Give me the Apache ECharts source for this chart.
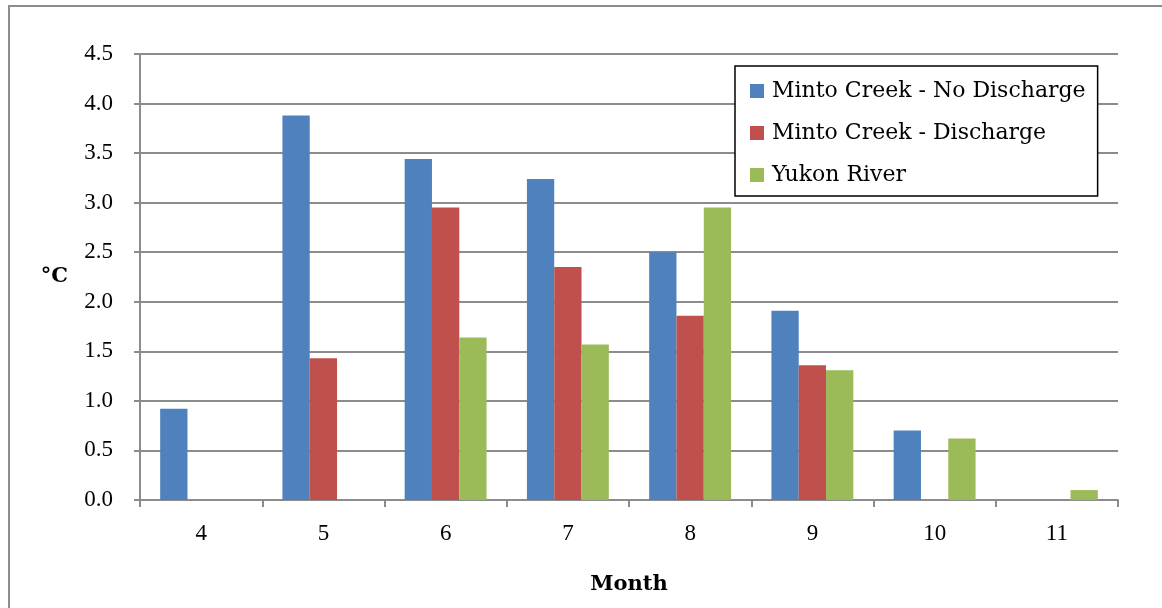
<!DOCTYPE html>
<html>
<head>
<meta charset="utf-8">
<script src="https://cdn.jsdelivr.net/npm/echarts@6/dist/echarts.min.js"></script>
<style>
  html, body { margin: 0; padding: 0; background: #fff; }
  #chart { width: 1162px; height: 608px; }
</style>
</head>
<body>
<div id="chart"></div>
<script>
// Monthly water temperature difference (°C) by site
const months = ['4', '5', '6', '7', '8', '9', '10', '11'];
const noDischarge = [0.92, 3.88, 3.44, 3.24, 2.50, 1.91, 0.70, null];
const discharge = [null, 1.43, 2.95, 2.35, 1.86, 1.36, null, null];
const yukonRiver = [null, null, 1.64, 1.57, 2.95, 1.31, 0.62, 0.10];
const seriesNames = ['Minto Creek - No Discharge', 'Minto Creek - Discharge', 'Yukon River'];

const FONT = 'DejaVu Serif';
const TICK_FONT = 'Liberation Serif';
const GRID = '#8c8c8c';

const chart = echarts.init(document.getElementById('chart'), null, { renderer: 'canvas' });

const barSeries = (name, data, color) => ({
  name,
  type: 'bar',
  data,
  barGap: '0%',
  barCategoryGap: '33%',
  itemStyle: { color }
});

chart.setOption({
  animation: false,
  backgroundColor: '#fff',
  textStyle: { fontFamily: FONT },
  graphic: [
    {
      type: 'polyline',
      shape: { points: [[9, 610], [9, 6], [1164, 6]] },
      style: { stroke: GRID, lineWidth: 2, fill: null }
    }
  ],
  grid: { left: 140, right: 44, top: 54, bottom: 108, containLabel: false },
  legend: {
    orient: 'vertical',
    left: 735,
    top: 66,
    padding: [14, 12, 10, 15],
    itemGap: 20,
    itemWidth: 14,
    itemHeight: 14,
    icon: 'rect',
    borderColor: '#000',
    borderWidth: 1.5,
    backgroundColor: '#fff',
    textStyle: { fontFamily: FONT, fontSize: 22, color: '#000', padding: [0, 0, 0, 3] },
    data: seriesNames
  },
  xAxis: {
    type: 'category',
    data: months,
    name: 'Month',
    nameLocation: 'middle',
    nameGap: 74,
    nameTextStyle: { fontFamily: FONT, fontSize: 21, fontWeight: 'bold', color: '#000' },
    axisLine: { lineStyle: { color: GRID, width: 2 } },
    axisTick: { show: true, length: 7, lineStyle: { color: GRID, width: 2 } },
    axisLabel: { fontFamily: TICK_FONT, fontSize: 23, color: '#000', margin: 22 }
  },
  yAxis: {
    type: 'value',
    min: 0,
    max: 4.5,
    interval: 0.5,
    name: '°C',
    nameLocation: 'middle',
    nameRotate: 0,
    nameGap: 72,
    nameTextStyle: { fontFamily: FONT, fontSize: 21, fontWeight: 'bold', color: '#000' },
    axisLine: { show: true, lineStyle: { color: GRID, width: 2 } },
    axisTick: { show: true, length: 6, lineStyle: { color: GRID, width: 2 } },
    axisLabel: {
      fontFamily: TICK_FONT, fontSize: 23, color: '#000', margin: 27,
      formatter: v => v.toFixed(1)
    },
    splitLine: { show: true, lineStyle: { color: GRID, width: 2 } }
  },
  series: [
    barSeries(seriesNames[0], noDischarge, '#4F81BD'),
    barSeries(seriesNames[1], discharge, '#C0504D'),
    barSeries(seriesNames[2], yukonRiver, '#9BBB59')
  ]
});
</script>
</body>
</html>
